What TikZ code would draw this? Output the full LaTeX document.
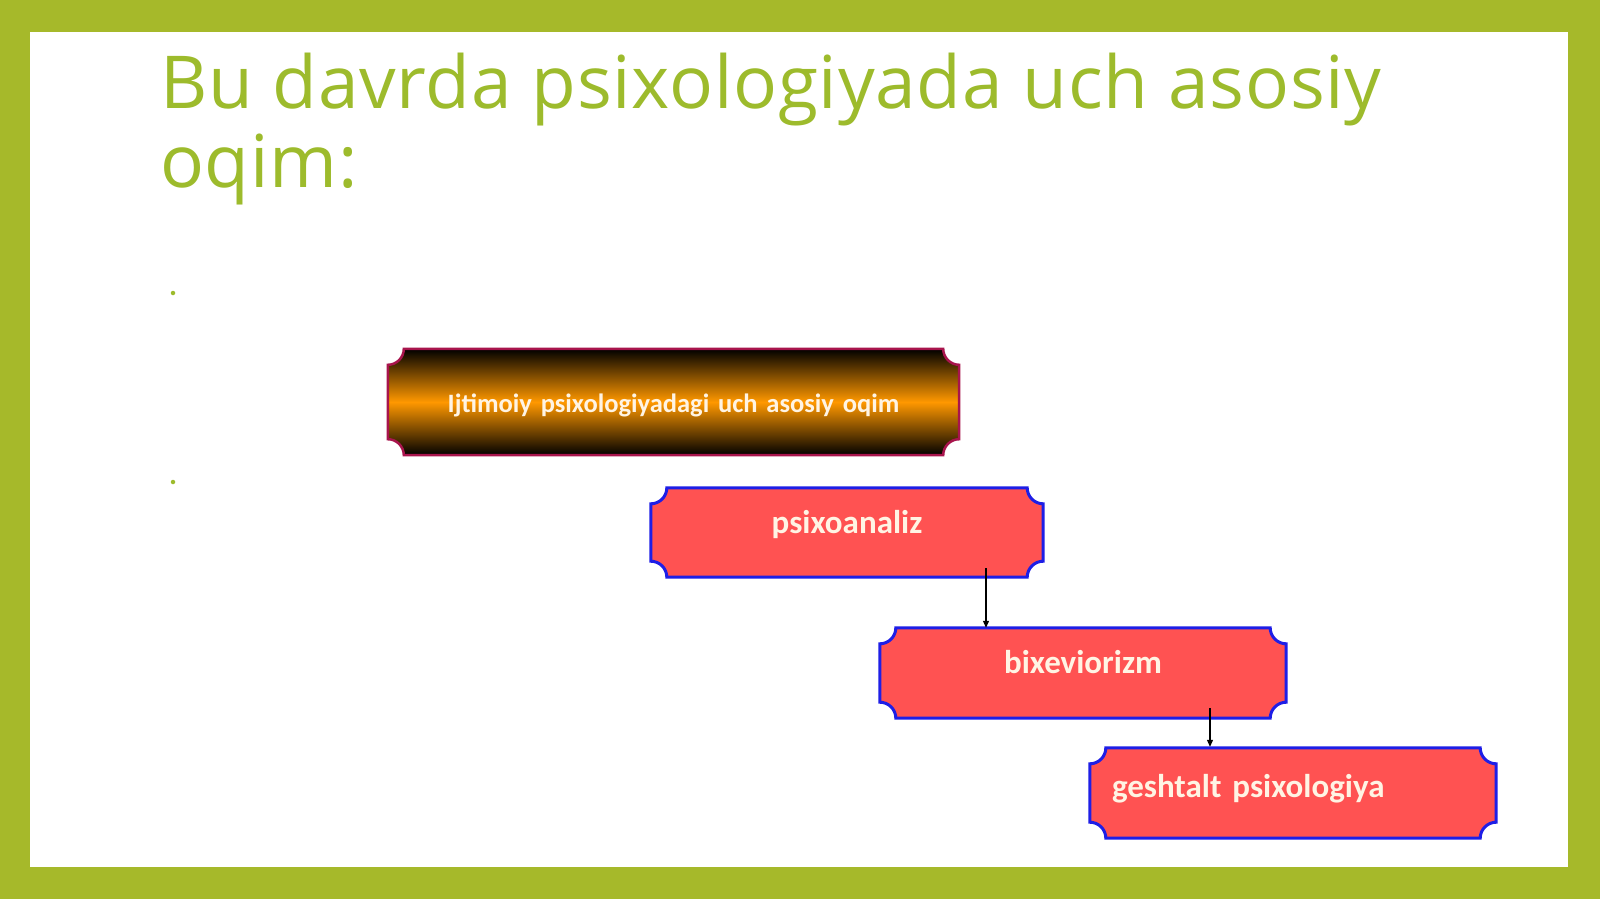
\documentclass[tikz,border=0pt]{standalone}
\usepackage{fontspec}
\setmainfont{Open Sans}
\newfontfamily\carlito{Carlito}
\newcommand\topboxfont{\carlito\bfseries\fontsize{26.5}{30}\selectfont\spaceskip=5pt\relax}
\newcommand\redboxfont{\carlito\bfseries\fontsize{33}{40}\selectfont\spaceskip=6.5pt\relax}
\usetikzlibrary{calc,arrows.meta}
\pgfdeclarelayer{bg}
\pgfdeclarelayer{mid}
\pgfsetlayers{bg,mid,main}
\definecolor{framegreen}{HTML}{A6B92A}
\definecolor{titlegreen}{HTML}{9DBB2C}
\definecolor{boxred}{HTML}{FF5252}
\definecolor{boxblue}{HTML}{1E1EE6}
\definecolor{crimson}{HTML}{A8144C}
\definecolor{deeporange}{HTML}{FF9800}
\definecolor{cream}{HTML}{FFF4E4}
\newcommand\plaquepath[1]{let \p1=(#1.north west), \p2=(#1.south east) in
 ({\x1+16pt},\y1) -- ({\x2-16pt},\y1)
 .. controls ({\x2-16pt},{\y1-8.8pt}) and ({\x2-8.8pt},{\y1-16pt}) .. (\x2,{\y1-16pt})
 -- (\x2,{\y2+16pt})
 .. controls ({\x2-8.8pt},{\y2+16pt}) and ({\x2-16pt},{\y2+8.8pt}) .. ({\x2-16pt},\y2)
 -- ({\x1+16pt},\y2)
 .. controls ({\x1+16pt},{\y2+8.8pt}) and ({\x1+8.8pt},{\y2+16pt}) .. (\x1,{\y2+16pt})
 -- (\x1,{\y1-16pt})
 .. controls ({\x1+8.8pt},{\y1-16pt}) and ({\x1+16pt},{\y1-8.8pt}) .. cycle}
\tikzset{
  titletext/.style={anchor=base west, inner sep=0pt, text=titlegreen, font=\fontsize{73}{80}\selectfont\addfontfeatures{LetterSpace=1.0}},
  bulletdot/.style={circle, fill=titlegreen, inner sep=0pt, minimum size=4.5pt},
  topbox/.style={inner sep=0pt, align=center, text=cream, font=\topboxfont},
  redbox/.style={inner sep=0pt, text=cream, font=\redboxfont},
  redplaque/.style={fill=boxred, draw=boxblue, line width=3pt},
  arr/.style={-{Triangle[length=7pt,width=6pt]}, line width=1.1pt, black}
}
\begin{document}
\begin{tikzpicture}[x=1pt,y=-1pt]
\useasboundingbox (0,0) rectangle (1600,899);
\begin{pgfonlayer}{bg}
\fill[framegreen] (0,0) rectangle (1600,899);
\fill[white] (30,32) rectangle (1568,867);
\end{pgfonlayer}
% title
\node[titletext] (title1) at (160,108) {Bu davrda psixologiyada uch asosiy};
\node[titletext] (title2) at (160,187) {oqim:};
% bullets
\node[bulletdot] (dot1) at (173,293) {};
\node[bulletdot] (dot2) at (173,482) {};
% boxes
\node[topbox, text width=571pt, text height=63pt, text depth=43pt] (t) at (673.5,402) {Ijtimoiy psixologiyadagi uch asosiy oqim};
\node[redbox, align=center, text width=392pt, text height=45pt, text depth=44pt] (b2) at (847,532.5) {psixoanaliz};
\node[redbox, align=center, text width=406pt, text height=45pt, text depth=45pt] (b3) at (1083,673) {bixeviorizm};
\node[redbox, align=left, text width=362pt, inner xsep=22pt, text height=49pt, text depth=41pt] (b4) at (1293,793) {geshtalt psixologiya};
\begin{pgfonlayer}{mid}
\shade[top color=black, bottom color=black, middle color=deeporange] \plaquepath{t};
\draw[crimson, line width=2.5pt] \plaquepath{t};
\filldraw[redplaque] \plaquepath{b2};
\filldraw[redplaque] \plaquepath{b3};
\filldraw[redplaque] \plaquepath{b4};
\end{pgfonlayer}
% connectors
\draw[arr] ([shift={(139,-9)}]b2.south) coordinate (s1) -- (s1 |- b3.north);
\draw[arr] ([shift={(127,-10)}]b3.south) coordinate (s2) -- ([yshift=1pt]s2 |- b4.north);
\end{tikzpicture}
\end{document}
